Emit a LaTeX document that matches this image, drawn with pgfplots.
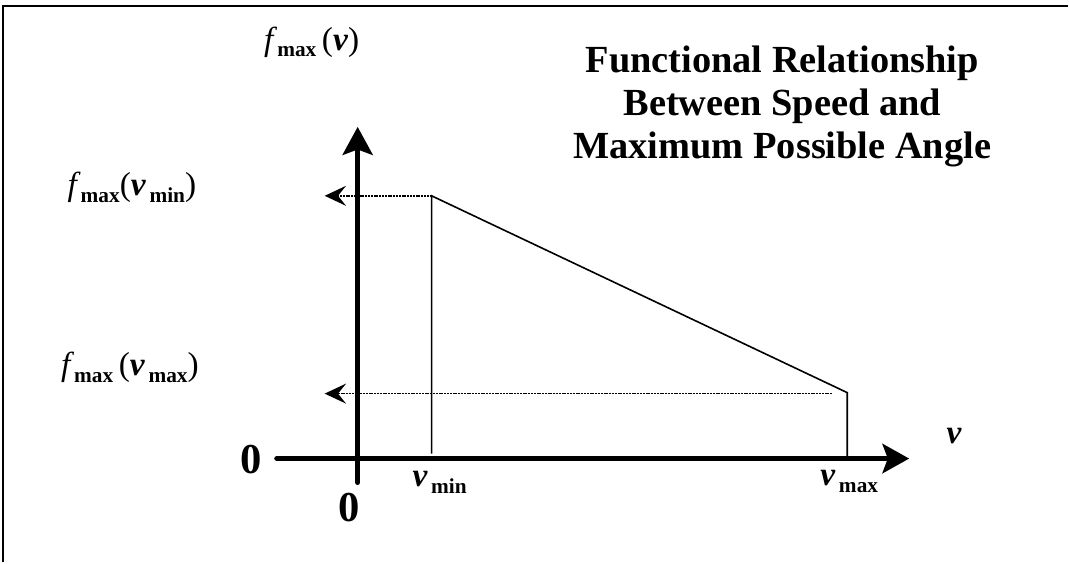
\documentclass[border=0pt]{standalone}
\usepackage{fontspec}
\setmainfont{Liberation Serif}
\usepackage{pgfplots}
\pgfplotsset{compat=1.18}
\usetikzlibrary{arrows.meta}

% label sizes (1px of the reference = 0.75pt)
\newcommand\lbl{\fontsize{25}{28}\selectfont}
\newcommand\sub[1]{\raisebox{-5pt}{\fontsize{16}{17}\selectfont\bfseries #1}}
\newcommand\vv{\textbf{\textit{v}}}

\begin{document}
\begin{tikzpicture}
\begin{axis}[
    scale only axis,
    width=801.75pt, height=422.25pt,
    xmin=-358, xmax=711,
    ymin=-104, ymax=459,
    hide axis,
    clip=false,
]
% page area and frame
\path (axis cs:-358,-104) rectangle (axis cs:711,459);
\draw[line width=1.5pt] (axis cs:-355,-104) -- (axis cs:-355,453) -- (axis cs:711,453);

% axes
\addplot[line width=3.75pt, line cap=round,
    -{Stealth[length=20pt,width=22pt,inset=4pt]}]
    coordinates {(-81,0) (552,0)};
\addplot[line width=3.75pt, line cap=round,
    -{Stealth[length=21pt,width=22.5pt,inset=4pt]}]
    coordinates {(0,-24) (0,332)};

% f_max(v)
\addplot[line width=1.2pt] coordinates {(74,5) (74,263) (490,66) (490,0)};

% projections onto the vertical axis
\addplot[line width=1.2pt, dash pattern=on 1.5pt off 0.6pt,
    -{Stealth[length=16pt,width=15pt,inset=6pt]}]
    coordinates {(74,263) (-33,263)};
\addplot[line width=1.2pt, dash pattern=on 1.5pt off 0.6pt,
    -{Stealth[length=16pt,width=15pt,inset=6pt]}]
    coordinates {(475,65) (-33,65)};

% labels
\node at (axis cs:-46,417) {\lbl\textit{f}\sub{max}\,(\vv)};
\node at (axis cs:-226,271) {\lbl\textit{f}\sub{max}(\vv\sub{\,min})};
\node at (axis cs:-228,91) {\lbl\textit{f}\sub{max}\,(\vv\sub{\,max})};
\node at (axis cs:-107,-1) {\fontsize{32}{32}\selectfont\bfseries 0};
\node at (axis cs:-9,-49) {\fontsize{32}{32}\selectfont\bfseries 0};
\node at (axis cs:82,-24) {\lbl\vv\sub{\,min}};
\node at (axis cs:492,-23) {\lbl\vv\sub{\,max}};
\node at (axis cs:597,23) {\lbl\vv};

\node[align=center, font=\fontsize{28.8}{32.3}\selectfont\bfseries]
    at (axis cs:425,352) {Functional Relationship\\Between Speed and\\Maximum Possible Angle};
\end{axis}
\end{tikzpicture}
\end{document}
